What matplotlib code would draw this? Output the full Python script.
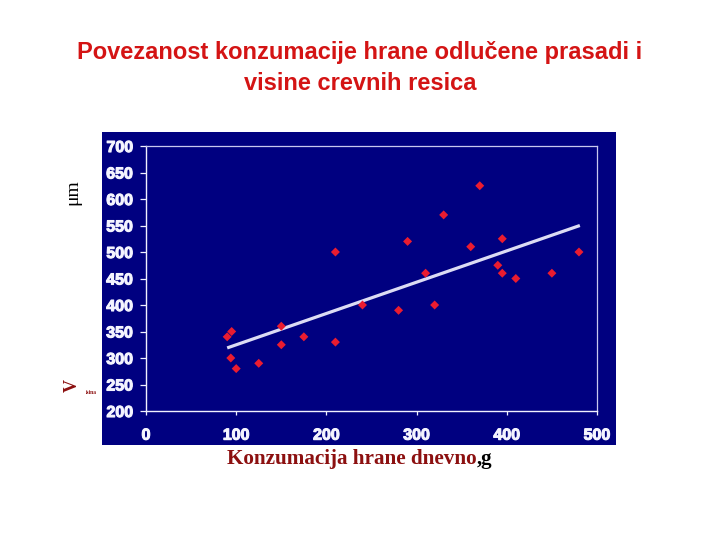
import numpy as np
import matplotlib.pyplot as plt
import matplotlib.patheffects as pe
from matplotlib.patches import Rectangle

# daily feed intake (g) vs. villus height (um)
intake = [90, 95, 94, 100, 125, 150, 150, 175, 210, 210, 240, 280, 290,
          310, 320, 330, 360, 370, 390, 395, 395, 410, 450, 480]
villus = [340, 350, 300, 280, 290, 360, 325, 340, 500, 330, 400, 390, 520,
          460, 400, 570, 510, 625, 475, 525, 460, 450, 460, 500]

# trend line end points
trend_x = [90, 481]
trend_y = [319, 550]

x_ticks = [0, 100, 200, 300, 400, 500]
y_ticks = [200, 250, 300, 350, 400, 450, 500, 550, 600, 650, 700]

NAVY = "#000080"
FRAME = "#c8c8ee"

fig = plt.figure(figsize=(7.2, 5.4), dpi=100)
W, H = 720, 540

# navy panel behind the chart
panel = Rectangle((102 / W, 1 - 445 / H), (616 - 102) / W, (445 - 132) / H,
                  transform=fig.transFigure, facecolor=NAVY, edgecolor="none", zorder=-5)
fig.add_artist(panel)

ax = fig.add_axes([146 / W, 1 - 411 / H, (597 - 146) / W, (411 - 146) / H])
ax.set_zorder(2)
ax.set_facecolor(NAVY)
ax.set_xlim(0, 500)
ax.set_ylim(200, 700)

ax.plot(trend_x, trend_y, color="#dcdcf4", lw=2.3, solid_capstyle="butt", zorder=2)
ax.scatter(intake, villus, marker="D", s=21, color="#ea1c30", edgecolors="none", zorder=3)

for side in ["left", "bottom"]:
    ax.spines[side].set_color("#f0f0ff")
    ax.spines[side].set_linewidth(1.0)
for side in ["top", "right"]:
    ax.spines[side].set_color(FRAME)
    ax.spines[side].set_linewidth(0.9)

ax.set_xticks(x_ticks)
ax.set_yticks(y_ticks)
ax.tick_params(axis="y", length=4.3, width=0.9, color="#f0f0ff", pad=5.0,
               labelsize=11.5, labelcolor="#f4f4ff")
ax.tick_params(axis="x", length=3, width=0.9, color="#f0f0ff", pad=9,
               labelsize=11.5, labelcolor="#f4f4ff")
heavy = [pe.withStroke(linewidth=0.8, foreground="#f4f4ff")]
for lab in ax.get_xticklabels() + ax.get_yticklabels():
    lab.set_fontweight("bold")
    lab.set_family("Liberation Sans")
    lab.set_path_effects(heavy)

fig.text(0.5, 1 - 53 / H, "Povezanost konzumacije hrane odlučene prasadi i",
         ha="center", va="center", fontsize=17, fontweight="bold", color="#d41414",
         family="Liberation Sans")
fig.text(0.5, 1 - 83 / H, "visine crevnih resica",
         ha="center", va="center", fontsize=17, fontweight="bold", color="#d41414",
         family="Liberation Sans")

xl = fig.text(227 / W, 1 - 459 / H, "Konzumacija hrane dnevno", ha="left", va="center",
              fontsize=15.2, fontweight="bold", color="#8c1010", family="Liberation Serif")
fig.canvas.draw()
bb = xl.get_window_extent()
fig.text(bb.x1 / W, 1 - 459 / H, ",g", ha="left", va="center",
         fontsize=15.2, fontweight="bold", color="black", family="Liberation Serif")

fig.text(73 / W, 1 - 192 / H, "μm", rotation=90, ha="center", va="center",
         fontsize=14, color="black", family="Liberation Serif")
fig.text(72 / W, 1 - 386 / H, "V", rotation=90, ha="center", va="center",
         fontsize=13, fontweight="bold", color="#8c1010", family="Liberation Serif")
fig.text(91 / W, 1 - 392 / H, "isina", ha="center", va="center",
         fontsize=4, fontweight="bold", color="#8c1010", family="Liberation Serif")

fig.savefig("out.png", dpi=100)
